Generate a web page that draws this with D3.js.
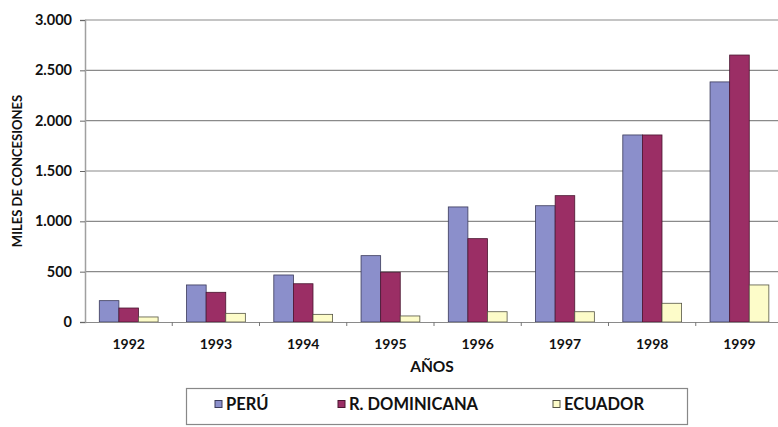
<!DOCTYPE html>
<html>
<head>
<meta charset="utf-8">
<script src="https://cdn.jsdelivr.net/npm/d3@7"></script>
<style>
  html, body { margin: 0; padding: 0; background: #fff; }
  svg { display: block; }
  text { font-family: Lato, "Open Sans", sans-serif; font-weight: 700; fill: #111; }
</style>
</head>
<body>
<svg id="chart" width="778" height="427"></svg>
<script>
// Concesiones (miles) por año y país
const years = ["1992", "1993", "1994", "1995", "1996", "1997", "1998", "1999"];
const seriesNames = ["PERÚ", "R. DOMINICANA", "ECUADOR"];
const peru = [212, 368, 467, 659, 1143, 1155, 1858, 2385];
const dominicana = [139, 295, 380, 494, 828, 1255, 1858, 2652];
const ecuador = [50, 86, 76, 60, 102, 102, 186, 368];
const yTicks = [0, 500, 1000, 1500, 2000, 2500, 3000];

const values = [peru, dominicana, ecuador];
const colors = ["#8b8fcb", "#9b2e65", "#fdfcc9"];
const strokes = ["#3a3a5a", "#4a1630", "#555544"];

const svg = d3.select("#chart");
const margin = { left: 85, top: 20, right: -5, bottom: 105 };
const W = 778, H = 427;
const plotW = W - margin.left - margin.right;
const plotH = H - margin.top - margin.bottom;

const g = svg.append("g").attr("transform", `translate(${margin.left},${margin.top})`);

const x0 = d3.scaleBand().domain(years).range([0, plotW]).paddingInner(0).paddingOuter(0);
const x1 = d3.scaleBand().domain(d3.range(3)).range([14.3, 14.3 + 58.8]);
const y = d3.scaleLinear().domain([0, 3000]).range([plotH, 0]);

const fmt = v => v === 0 ? "0" : d3.format(",")(v).replace(/,/g, ".");

// grid lines
g.append("g").selectAll("line").data(yTicks.filter(t => t > 0)).join("line")
  .attr("x1", 0).attr("x2", plotW)
  .attr("y1", d => y(d)).attr("y2", d => y(d))
  .attr("stroke", "#8a8a8a").attr("stroke-width", 1.2);

// y axis
const yAxis = g.append("g")
  .call(d3.axisLeft(y).tickValues(yTicks).tickFormat(fmt).tickSize(5).tickPadding(8));
yAxis.select(".domain").attr("stroke", "#a0a0a0").attr("stroke-width", 1.5);
yAxis.selectAll(".tick line").attr("stroke", "#666");
yAxis.selectAll("text").attr("font-size", 14.5).attr("font-family", "Lato, sans-serif")
  .attr("font-weight", 700).attr("fill", "#111");

// bars
const groups = g.append("g").selectAll("g").data(years).join("g")
  .attr("transform", d => `translate(${x0(d)},0)`);
groups.selectAll("rect").data((d, i) => values.map((s, k) => ({ k, v: s[i] }))).join("rect")
  .attr("x", d => x1(d.k))
  .attr("width", x1.bandwidth())
  .attr("y", d => y(d.v))
  .attr("height", d => y(0) - y(d.v))
  .attr("fill", d => colors[d.k])
  .attr("stroke", d => strokes[d.k])
  .attr("stroke-width", 0.8);

// x axis
const xAxis = g.append("g").attr("transform", `translate(0,${plotH})`)
  .call(d3.axisBottom(x0).tickSize(0).tickPadding(17));
xAxis.select(".domain").attr("stroke", "#8a8a8a").attr("stroke-width", 1.2);
xAxis.selectAll("text").attr("font-size", 14).attr("font-family", "Lato, sans-serif")
  .attr("font-weight", 700).attr("fill", "#111");
// category separators
g.append("g").selectAll("line").data(years.slice(1)).join("line")
  .attr("x1", d => x0(d)).attr("x2", d => x0(d))
  .attr("y1", plotH).attr("y2", plotH + 4)
  .attr("stroke", "#777");

// axis titles
svg.append("text")
  .attr("transform", `translate(17,${margin.top + plotH / 2}) rotate(-90)`)
  .attr("text-anchor", "middle").attr("dy", "0.35em").attr("font-size", 13)
  .text("MILES DE CONCESIONES");
svg.append("text")
  .attr("x", 432).attr("y", 367).attr("dy", "0.35em")
  .attr("text-anchor", "middle").attr("font-size", 15.5)
  .text("AÑOS");

// legend
const lg = svg.append("g");
lg.append("rect").attr("x", 186.5).attr("y", 388.5).attr("width", 501).attr("height", 36)
  .attr("fill", "#fff").attr("stroke", "#888").attr("stroke-width", 1.2);
const legendX = [215, 338, 553];
const items = lg.selectAll("g.item").data(seriesNames).join("g").attr("class", "item")
  .attr("transform", (d, i) => `translate(${legendX[i]},404)`);
items.append("rect").attr("x", 0).attr("y", -3.5).attr("width", 7).attr("height", 7)
  .attr("fill", (d, i) => colors[i]).attr("stroke", (d, i) => strokes[i]).attr("stroke-width", 1);
items.append("text").attr("x", 11).attr("y", 0).attr("dy", "0.35em")
  .attr("font-size", 16.5).text(d => d);
</script>
</body>
</html>
